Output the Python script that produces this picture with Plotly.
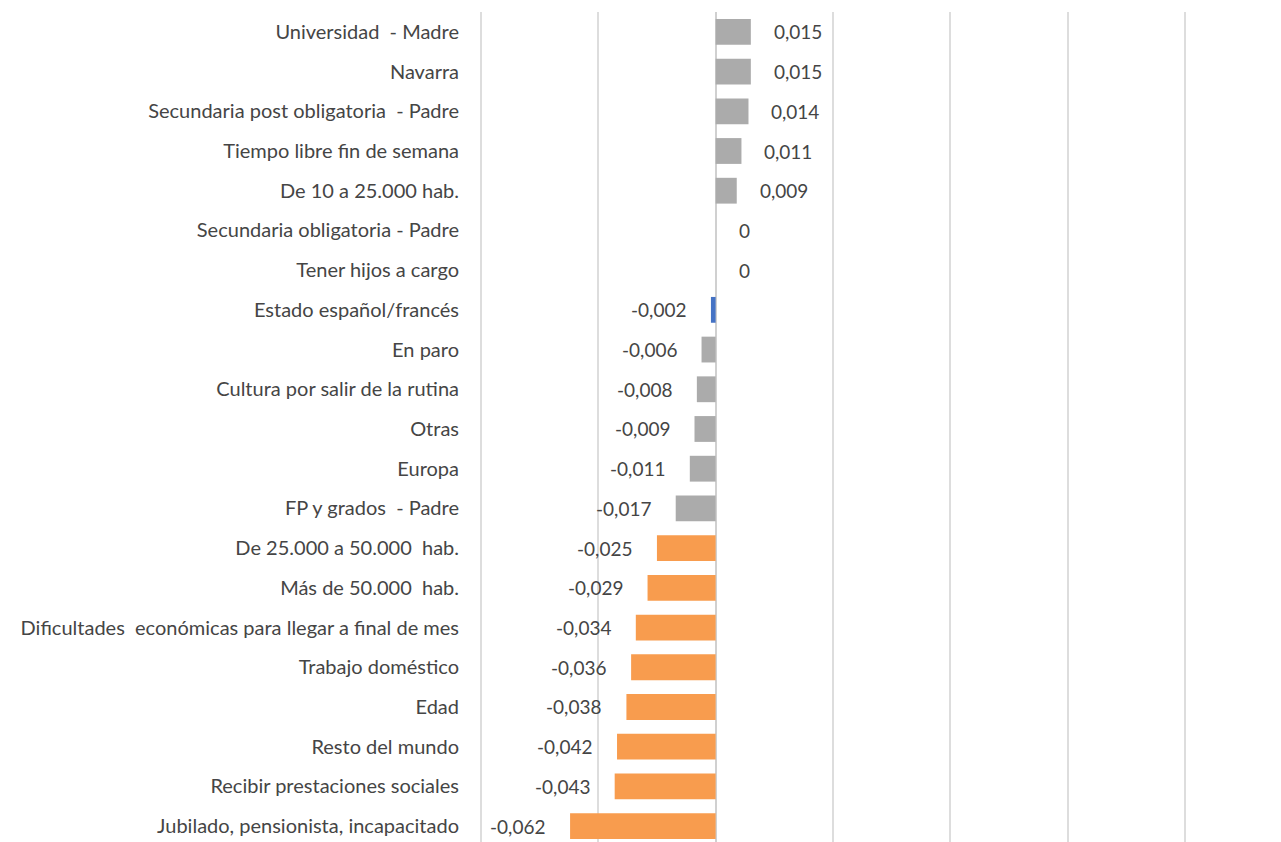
import plotly.graph_objects as go

categories = [
    "Universidad  - Madre",
    "Navarra",
    "Secundaria post obligatoria  - Padre",
    "Tiempo libre fin de semana",
    "De 10 a 25.000 hab.",
    "Secundaria obligatoria - Padre",
    "Tener hijos a cargo",
    "Estado español/francés",
    "En paro",
    "Cultura por salir de la rutina",
    "Otras",
    "Europa",
    "FP y grados  - Padre",
    "De 25.000 a 50.000  hab.",
    "Más de 50.000  hab.",
    "Dificultades  económicas para llegar a final de mes",
    "Trabajo doméstico",
    "Edad",
    "Resto del mundo",
    "Recibir prestaciones sociales",
    "Jubilado, pensionista, incapacitado",
]
values = [0.015, 0.015, 0.014, 0.011, 0.009, 0, 0, -0.002, -0.006, -0.008, -0.009,
          -0.011, -0.017, -0.025, -0.029, -0.034, -0.036, -0.038, -0.042, -0.043, -0.062]
labels = ["0,015", "0,015", "0,014", "0,011", "0,009", "0", "0", "-0,002", "-0,006", "-0,008",
          "-0,009", "-0,011", "-0,017", "-0,025", "-0,029", "-0,034", "-0,036", "-0,038",
          "-0,042", "-0,043", "-0,062"]
groups = ["gray"] * 7 + ["blue"] + ["gray"] * 5 + ["orange"] * 8

color_map = {"gray": "#ABABAB", "blue": "#4472C4", "orange": "#F89C4E"}
colors = [color_map[g] for g in groups]

FONT = "Lato"
TXT = "#454545"
FS = 20

fig = go.Figure()
fig.add_trace(go.Bar(
    y=categories, x=values, orientation="h",
    marker=dict(color=colors, line=dict(width=0)),
    width=0.65, hoverinfo="x+y",
))

for c, v, t in zip(categories, values, labels):
    if v >= 0:
        fig.add_annotation(x=v, y=c, text=t, showarrow=False, xanchor="left", xshift=21,
                           font=dict(family=FONT, size=FS - 1, color=TXT))
    else:
        fig.add_annotation(x=v, y=c, text=t, showarrow=False, xanchor="right", xshift=-23,
                           font=dict(family=FONT, size=FS - 1, color=TXT))

fig.update_layout(
    width=1281, height=842,
    margin=dict(l=479, r=94, t=12, b=0),
    paper_bgcolor="white", plot_bgcolor="white",
    showlegend=False,
    font=dict(family=FONT, size=FS, color=TXT),
    xaxis=dict(range=[-0.1008, 0.2008], dtick=0.05, tick0=0, showticklabels=False,
               showgrid=True, gridcolor="#DDDDDD", gridwidth=1.5,
               zeroline=True, zerolinecolor="#D0D0D0", zerolinewidth=1.5,
               fixedrange=True),
    yaxis=dict(range=[20.4, -0.5], type="category", ticks="", showgrid=False,
               ticklabelstandoff=19, tickfont=dict(family=FONT, size=FS, color=TXT)),
)

fig.write_html("out.html", config={"displayModeBar": False},
               post_script="document.body.style.margin='0';document.body.style.overflow='hidden';")
